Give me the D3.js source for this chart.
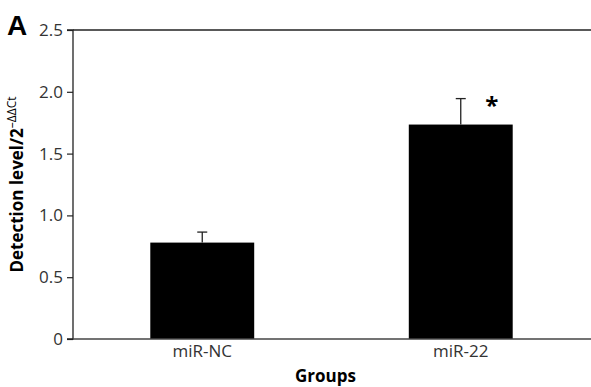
<!DOCTYPE html>
<html>
<head>
<meta charset="utf-8">
<script src="https://cdn.jsdelivr.net/npm/d3@7"></script>
<style>
  body { margin: 0; background: #fff; }
  svg { display: block; font-family: "Open Sans", "Noto Sans", sans-serif; }
</style>
</head>
<body>
<svg id="chart" width="591" height="387"></svg>
<script>
// groups and values
var groups = ["miR-NC", "miR-22"];
var means = [0.78, 1.735];
var errors = [0.085, 0.21];
var stars = ["", "*"];
var yTicks = [0, 0.5, 1.0, 1.5, 2.0, 2.5];

var svg = d3.select("#chart"),
    mLeft = 73, mRight = 590, mTop = 30, mBottom = 339;

var x = d3.scaleBand().domain(groups).range([mLeft, mRight]).padding(0);
var y = d3.scaleLinear().domain([0, 2.5]).range([mBottom, mTop]);
var barW = x.bandwidth() * 0.402;

// bars
svg.selectAll(".bar").data(groups).enter().append("rect")
    .attr("x", function(d) { return x(d) + x.bandwidth() / 2 - barW / 2; })
    .attr("y", function(d, i) { return y(means[i]); })
    .attr("width", barW)
    .attr("height", function(d, i) { return y(0) - y(means[i]); })
    .attr("fill", "#000");

// error bars (upper only)
var eb = svg.selectAll(".err").data(groups).enter().append("g");
eb.append("line")
    .attr("x1", function(d) { return x(d) + x.bandwidth() / 2; })
    .attr("x2", function(d) { return x(d) + x.bandwidth() / 2; })
    .attr("y1", function(d, i) { return y(means[i]); })
    .attr("y2", function(d, i) { return y(means[i] + errors[i]); })
    .attr("stroke", "#222").attr("stroke-width", 1.3);
eb.append("line")
    .attr("x1", function(d) { return x(d) + x.bandwidth() / 2 - 5; })
    .attr("x2", function(d) { return x(d) + x.bandwidth() / 2 + 5; })
    .attr("y1", function(d, i) { return y(means[i] + errors[i]); })
    .attr("y2", function(d, i) { return y(means[i] + errors[i]); })
    .attr("stroke", "#222").attr("stroke-width", 1.3);

// significance star
svg.selectAll(".star").data(groups).enter().append("text")
    .attr("x", function(d) { return x(d) + x.bandwidth() / 2 + 31; })
    .attr("y", function(d, i) { return y(means[i] + errors[i]) + 15; })
    .attr("text-anchor", "middle")
    .attr("font-size", 24).attr("font-weight", "bold")
    .text(function(d, i) { return stars[i]; });

// y axis
var yAxis = svg.append("g").attr("transform", "translate(" + mLeft + ",0)")
    .call(d3.axisLeft(y).tickValues(yTicks).tickSize(6).tickPadding(4)
        .tickFormat(function(d) { return d === 0 ? "0" : d3.format(".1f")(d); }));
yAxis.select(".domain").attr("stroke", "#222").attr("stroke-width", 1.3)
    .attr("d", "M-6," + y(2.5) + "H0V" + y(0) + "H-6");
yAxis.selectAll(".tick line").attr("stroke", "#222").attr("stroke-width", 1.2);
yAxis.selectAll(".tick text").attr("font-size", 17).attr("fill", "#333")
    .attr("font-family", "Open Sans, Noto Sans, sans-serif");

// x axis
var xAxis = svg.append("g").attr("transform", "translate(0," + mBottom + ")")
    .call(d3.axisBottom(x).tickSize(0).tickPadding(6));
xAxis.select(".domain").attr("stroke", "#444").attr("stroke-width", 1.3)
    .attr("d", "M" + mLeft + ",0H" + 591);
xAxis.selectAll(".tick text").attr("font-size", 17).attr("fill", "#333")
    .attr("font-family", "Open Sans, Noto Sans, sans-serif");

// top frame line
svg.append("line")
    .attr("x1", mLeft).attr("x2", 591)
    .attr("y1", y(2.5)).attr("y2", y(2.5))
    .attr("stroke", "#222").attr("stroke-width", 1.3);

// axis titles
svg.append("text")
    .attr("x", (mLeft + mRight) / 2 - 6).attr("y", 382)
    .attr("text-anchor", "middle")
    .attr("font-size", 17).attr("font-weight", "bold")
    .text("Groups");

var yt = svg.append("text")
    .attr("transform", "translate(23," + ((mTop + mBottom) / 2) + ") rotate(-90)")
    .attr("text-anchor", "middle")
    .attr("font-size", 17).attr("font-weight", "bold");
yt.append("tspan").text("Detection level/2");
yt.append("tspan").attr("dy", -7).attr("font-size", 12).attr("font-weight", "normal").text("\u2013\u0394\u0394Ct");

// panel letter
svg.append("text")
    .attr("x", 7).attr("y", 35)
    .attr("font-size", 28).attr("font-weight", "bold")
    .attr("font-family", "Liberation Sans, Arial, sans-serif")
    .text("A");
</script>
</body>
</html>
